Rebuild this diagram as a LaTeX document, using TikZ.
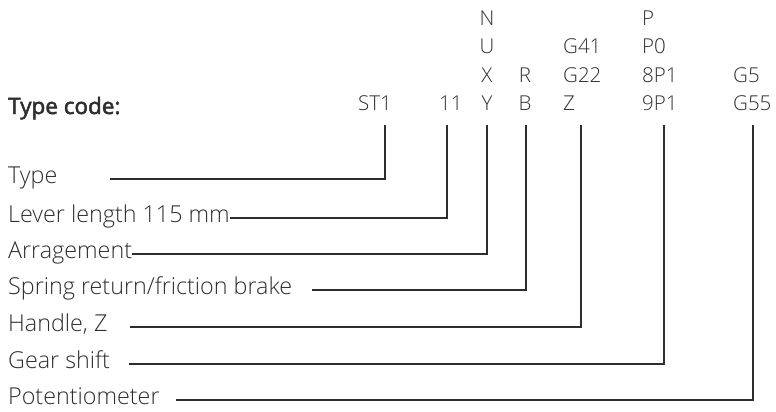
\documentclass[tikz,border=0pt]{standalone}
\usepackage{fontspec}
\setmainfont{Open Sans Light}
\newfontfamily\headfont{Open Sans}[FakeBold=2.2]
\usepackage{xcolor}
\usetikzlibrary{positioning}

\definecolor{inkgray}{HTML}{2E2E2E}

\begin{document}
\begin{tikzpicture}[x=1pt,y=-1pt,
  lbl/.style={anchor=base west,inner sep=0pt,text=inkgray,font=\fontsize{23.3}{23.3}\selectfont},
  code/.style={anchor=south west,inner sep=0pt,align=left,text=inkgray,font=\fontsize{20.5}{28.4}\selectfont},
  lead/.style={draw=inkgray,line width=1.4pt}]
\useasboundingbox (0,0) rectangle (776,412);

% type code header
\node[anchor=base west,inner sep=0pt,text=inkgray,font=\headfont\fontsize{22.5}{22.5}\selectfont] (head) at (8,114) {Type code:};

% code columns
\node[code] (st) at (358,111) {ST1};
\node[code] (len) at (439,111) {11};
\node[code,anchor=south,align=center] (arr) at (487,111) {N\\U\\X\\Y};
\node[code,anchor=south,align=center] (spr) at (525,111) {R\\B};
\node[code] (hdl) at (563,111) {G41\\G22\\Z};
\node[code] (gear) at (642,111) {P\\P0\\8P1\\9P1};
\node[code] (pot) at (733,111) {G5\\G55};

% descriptions (baseline 4 below the leader)
\node[lbl] (ltype) at (8,183) {Type};
\node[lbl] (llen) at (8,222) {Lever length 115 mm};
\node[lbl] (larr) at (8,258) {Arragement};
\node[lbl] (lspr) at (8,294) {Spring return/friction brake};
\node[lbl] (lhdl) at (8,331) {Handle, Z};
\node[lbl] (lgear) at (8,368) {Gear shift};
\node[lbl] (lpot) at (8,404) {Potentiometer};

% leaders
\draw[lead] ([xshift=53,yshift=4]ltype.base east) -| ([xshift=27,yshift=-14]st.south west);
\draw[lead] ([yshift=4]llen.base east) -| ([xshift=8,yshift=-14]len.south west);
\draw[lead] ([yshift=4]larr.base east) -| ([yshift=-14]arr.south);
\draw[lead] ([xshift=20,yshift=4]lspr.base east) -| ([xshift=1,yshift=-14]spr.south);
\draw[lead] ([xshift=22,yshift=4]lhdl.base east) -| ([xshift=18,yshift=-14]hdl.south west);
\draw[lead] ([xshift=19,yshift=4]lgear.base east) -| ([xshift=22,yshift=-14]gear.south west);
\draw[lead] ([xshift=16,yshift=4]lpot.base east) -| ([xshift=20,yshift=-14]pot.south west);
\end{tikzpicture}
\end{document}
